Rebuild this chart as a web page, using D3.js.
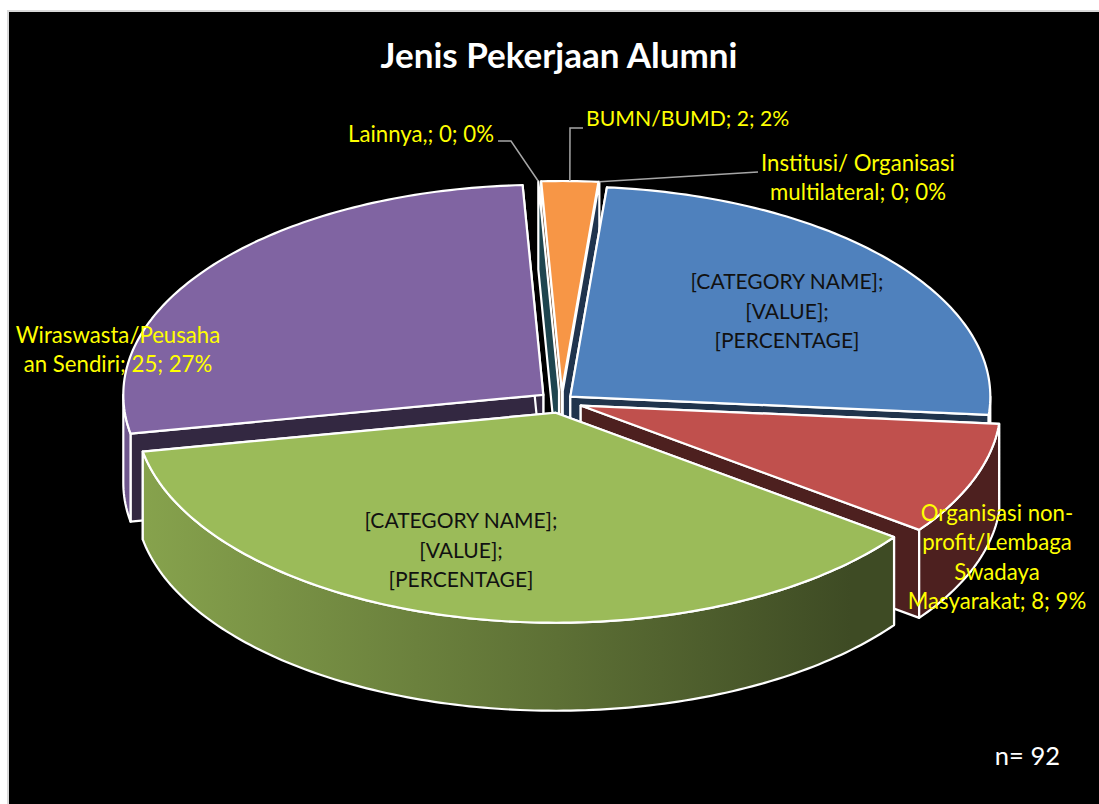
<!DOCTYPE html>
<html>
<head>
<meta charset="utf-8">
<script src="https://d3js.org/d3.v7.min.js"></script>
<style>
html, body { margin: 0; padding: 0; background: #fff; }
svg { display: block; }
text { font-family: Lato, sans-serif; }
</style>
</head>
<body>
<div id="chart"></div>
<script>
// Chart data, clockwise from the first slice
var categories = ["[CATEGORY NAME]", "Organisasi non-profit/Lembaga Swadaya Masyarakat", "[CATEGORY NAME]",
                  "Wiraswasta/Peusahaan Sendiri", "Lainnya,", "BUMN/BUMD", "Institusi/ Organisasi multilateral"];
var values = [23, 8, 34, 25, 0, 2, 0];
var sliceColors = ["#4f81bd", "#c0504d", "#9bbb59", "#8064a2", "#4bacc6", "#f79646", "#4f81c4"];
var labelLines = [
    ["[CATEGORY NAME];", "[VALUE];", "[PERCENTAGE]"],
    ["Organisasi non-", "profit/Lembaga", "Swadaya", "Masyarakat; 8; 9%"],
    ["[CATEGORY NAME];", "[VALUE];", "[PERCENTAGE]"],
    ["Wiraswasta/Peusaha", "an Sendiri; 25; 27%"],
    ["Lainnya,; 0; 0%"],
    ["BUMN/BUMD; 2; 2%"],
    ["Institusi/ Organisasi", "multilateral; 0; 0%"]
];
var titleText = "Jenis Pekerjaan Alumni";
var noteText = "n= 92";

// Layout
var W = 1099, H = 804,
    cx = 557, cy = 401,
    rx = 420, ry = 210,
    depth = 88,
    explode = 20,
    startDeg = 5;
// small corrections per slice, the source pie is not a perfect projection
var nudge = [[-2, 2], [5, 1], [3, 2], [2, 0], [3, 0], [4.5, 0], [4, 0]];
var labelPos = [
    {x: 787, y: 284, size: 21, anchor: "middle", fill: "#111"},
    {x: 997, y: 515, size: 22.2, anchor: "middle", fill: "#ffff00"},
    {x: 461, y: 523, size: 21, anchor: "middle", fill: "#111"},
    {x: 118, y: 337, size: 22.2, anchor: "middle", fill: "#ffff00"},
    {x: 494, y: 136, size: 22.2, anchor: "end", fill: "#ffff00"},
    {x: 586, y: 121, size: 21.2, anchor: "start", fill: "#ffff00"},
    {x: 858, y: 165, size: 22.2, anchor: "middle", fill: "#ffff00"}
];
var lineGap = 29.5;
var leaderElbows = {4: [[498, 141], [511, 141]], 5: [[583, 128], [570, 128]], 6: [[758, 172]]};

var rad = function(d) { return d * Math.PI / 180; };

var svg = d3.select("#chart").append("svg").attr("width", W).attr("height", H);
var defs = svg.append("defs");

svg.append("rect")
    .attr("x", 8).attr("y", 11)
    .attr("width", W).attr("height", H)
    .attr("fill", "#000")
    .attr("stroke", "#d9d9d9")
    .attr("stroke-width", 2);

var pie = d3.pie().sort(null).value(function(d) { return d; })
    .startAngle(rad(startDeg)).endAngle(rad(startDeg + 360));
var arcs = pie(values);

var scaleX = d3.scaleLinear().domain([-1, 1]).range([-rx, rx]);
var scaleY = d3.scaleLinear().domain([-1, 1]).range([ry, -ry]);

function shade(color, k) {
    var c = d3.rgb(color);
    return d3.rgb(c.r * k, c.g * k, c.b * k).formatHex();
}

var lineGen = d3.line();

arcs.forEach(function(a, i) {
    var mid = (a.startAngle + a.endAngle) / 2;
    a.index = i;
    a.ax = cx + explode * Math.sin(mid) + nudge[i][0];
    a.ay = cy - explode * 0.5 * Math.cos(mid) + nudge[i][1];
    a.rim = function(t) {
        return [a.ax + scaleX(Math.sin(t)), a.ay + scaleY(Math.cos(t))];
    };
    var g = defs.append("linearGradient")
        .attr("id", "rim" + i)
        .attr("gradientUnits", "userSpaceOnUse")
        .attr("x1", cx - rx).attr("x2", cx + rx).attr("y1", 0).attr("y2", 0);
    g.append("stop").attr("offset", 0).attr("stop-color", shade(sliceColors[i], 0.87));
    g.append("stop").attr("offset", 0.5).attr("stop-color", shade(sliceColors[i], 0.6));
    g.append("stop").attr("offset", 0.85).attr("stop-color", shade(sliceColors[i], 0.4));
    g.append("stop").attr("offset", 1).attr("stop-color", shade(sliceColors[i], 0.4));
});

function arcPoints(a) {
    var n = Math.max(2, Math.ceil((a.endAngle - a.startAngle) / rad(1)));
    return d3.range(n + 1).map(function(k) {
        return a.rim(a.startAngle + (a.endAngle - a.startAngle) * k / n);
    });
}

function drop(p) { return [p[0], p[1] + depth]; }

function drawRadialWall(g, a, t) {
    var apex = [a.ax, a.ay], r = a.rim(t);
    g.append("path")
        .attr("d", lineGen([apex, r, drop(r), drop(apex)]) + "Z")
        .attr("fill", shade(sliceColors[a.index], 0.4))
        .attr("stroke", "#fff")
        .attr("stroke-width", 2.2)
        .attr("stroke-linejoin", "round");
}

function drawRimWall(g, a) {
    // only the part of the rim that faces the viewer
    var from = Math.max(a.startAngle, rad(90)), to = Math.min(a.endAngle, rad(270));
    if (to <= from) return;
    var n = Math.ceil((to - from) / rad(1));
    var top = d3.range(n + 1).map(function(k) { return a.rim(from + (to - from) * k / n); });
    var bottom = top.map(drop).reverse();
    g.append("path")
        .attr("d", lineGen(top.concat(bottom)) + "Z")
        .attr("fill", "url(#rim" + a.index + ")")
        .attr("stroke", "#fff")
        .attr("stroke-width", 2.2)
        .attr("stroke-linejoin", "round");
}

function drawTop(g, a) {
    if (a.value === 0) return;
    g.append("path")
        .attr("d", lineGen([[a.ax, a.ay]].concat(arcPoints(a))) + "Z")
        .attr("fill", sliceColors[a.index])
        .attr("stroke", "#fff")
        .attr("stroke-width", 2.2)
        .attr("stroke-linejoin", "round");
}

// back to front, the two zero slices only show as a wall
var slices = svg.append("g");
var orange = arcs[5];
drawRadialWall(slices, orange, orange.startAngle);
drawRadialWall(slices, orange, orange.endAngle);
drawRadialWall(slices, arcs[4], arcs[4].startAngle);
drawRadialWall(slices, arcs[6], arcs[6].startAngle);
drawTop(slices, orange);

[0, 3, 1, 2].forEach(function(i) {
    var a = arcs[i], g = slices.append("g").attr("class", "slice");
    drawRadialWall(g, a, a.startAngle);
    drawRadialWall(g, a, a.endAngle);
    drawRimWall(g, a);
    drawTop(g, a);
});

// leader lines for the three small slices
Object.keys(leaderElbows).forEach(function(k) {
    var a = arcs[+k];
    var mid = (a.startAngle + a.endAngle) / 2;
    svg.append("path")
        .attr("d", lineGen(leaderElbows[k].concat([a.rim(mid)])))
        .attr("fill", "none")
        .attr("stroke", "#a6a6a6")
        .attr("stroke-width", 1.5);
});

// labels
labelLines.forEach(function(lines, i) {
    var pos = labelPos[i];
    var t = svg.append("text")
        .attr("text-anchor", pos.anchor)
        .attr("fill", pos.fill)
        .attr("font-size", pos.size);
    lines.forEach(function(line, j) {
        t.append("tspan")
            .attr("x", pos.x)
            .attr("y", pos.y + j * lineGap)
            .attr("dominant-baseline", "middle")
            .text(line);
    });
});

svg.append("text")
    .attr("x", 559).attr("y", 59)
    .attr("text-anchor", "middle")
    .attr("dominant-baseline", "middle")
    .attr("fill", "#fff")
    .attr("font-size", 35)
    .attr("font-weight", 700)
    .text(titleText);

svg.append("text")
    .attr("x", 1060).attr("y", 759)
    .attr("text-anchor", "end")
    .attr("dominant-baseline", "middle")
    .attr("fill", "#fff")
    .attr("font-size", 25.5)
    .text(noteText);
</script>
</body>
</html>
